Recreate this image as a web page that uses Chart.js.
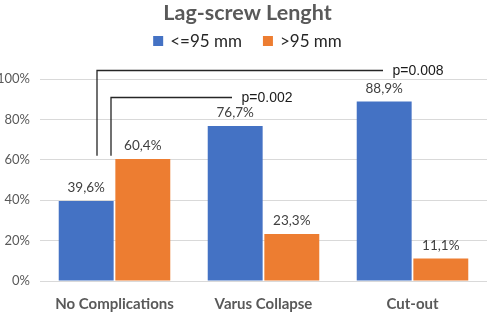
<!DOCTYPE html>
<html>
<head>
<meta charset="utf-8">
<script src="https://cdn.jsdelivr.net/npm/chart.js@4.4.1/dist/chart.umd.min.js"></script>
<style>
  html, body { margin: 0; padding: 0; background: #fff; }
  #wrap { width: 489px; height: 312px; position: relative; }
</style>
</head>
<body>
<div id="wrap"><canvas id="chart"></canvas></div>
<script>
// data
const categories = ["No Complications", "Varus Collapse", "Cut-out"];
const shortScrew = [39.6, 76.7, 88.9];   // <=95 mm
const longScrew = [60.4, 23.3, 11.1];    // >95 mm
const seriesNames = ["<=95 mm", ">95 mm"];
const seriesColors = ["#4472C4", "#ED7D31"];
const yTicks = [0, 20, 40, 60, 80, 100];
const pValues = ["p=0.002", "p=0.008"];   // No Complications vs Varus Collapse / Cut-out
const chartTitle = "Lag-screw Lenght";

const FONT = "Lato, 'Open Sans', sans-serif";
const GREY = "#595959";

function fmt(v) {
  return v.toFixed(1).replace(".", ",") + "%";
}

// title + legend drawn by hand so they sit exactly where the original has them
const header = {
  id: "header",
  afterDraw(chart) {
    const ctx = chart.ctx;
    const mid = chart.width / 2 + 3;
    ctx.save();
    ctx.textBaseline = "middle";

    ctx.font = "bold 21.5px " + FONT;
    ctx.fillStyle = GREY;
    ctx.textAlign = "center";
    ctx.fillText(chartTitle, mid, 13);

    ctx.font = "17px " + FONT;
    ctx.textAlign = "left";
    const box = 10, gap = 7, itemGap = 21;
    const widths = seriesNames.map((s) => ctx.measureText(s).width);
    const total = widths.reduce((a, w) => a + box + gap + w, 0) + itemGap;
    let xPos = mid - total / 2;
    seriesNames.forEach((s, i) => {
      ctx.fillStyle = seriesColors[i];
      ctx.fillRect(xPos, 36, box, box);
      ctx.fillStyle = "#262626";
      ctx.fillText(s, xPos + box + gap, 42);
      xPos += box + gap + widths[i] + itemGap;
    });
    ctx.restore();
  },
};

// value labels above each bar
const barLabels = {
  id: "barLabels",
  afterDatasetsDraw(chart) {
    const ctx = chart.ctx;
    ctx.save();
    ctx.font = "13.5px " + FONT;
    ctx.fillStyle = "#404040";
    ctx.textAlign = "center";
    ctx.textBaseline = "middle";
    chart.data.datasets.forEach((ds, i) => {
      chart.getDatasetMeta(i).data.forEach((bar, j) => {
        ctx.fillText(fmt(ds.data[j]), bar.x, bar.y - 13);
      });
    });
    ctx.restore();
  },
};

// significance brackets (left leg only, as in the original)
const brackets = {
  id: "brackets",
  afterDatasetsDraw(chart) {
    const ctx = chart.ctx;
    const x = chart.scales.x;
    const y = chart.scales.y;
    const defs = [
      { to: 1, p: pValues[0], legX: -3.5, top: 91.1, endX: -31.5 },
      { to: 2, p: pValues[1], legX: -17.5, top: 104.5, endX: -29.5 },
    ];
    ctx.save();
    ctx.strokeStyle = "#262626";
    ctx.lineWidth = 1.3;
    ctx.font = "14px 'Liberation Sans', Arial, sans-serif";
    ctx.fillStyle = "#1a1a1a";
    ctx.textBaseline = "middle";
    defs.forEach((d) => {
      const x0 = x.getPixelForValue(0) + d.legX;
      const x1 = x.getPixelForValue(d.to) + d.endX;
      const yTop = Math.round(y.getPixelForValue(d.top)) + 0.5;
      const yBottom = y.getPixelForValue(62);
      ctx.beginPath();
      ctx.moveTo(x0, yBottom);
      ctx.lineTo(x0, yTop);
      ctx.lineTo(x1, yTop);
      ctx.stroke();
      ctx.fillText(d.p, x1 + 9.5, yTop + 1);
    });
    ctx.restore();
  },
};

new Chart(document.getElementById("chart"), {
  type: "bar",
  data: {
    labels: categories,
    datasets: [
      { label: seriesNames[0], data: shortScrew, backgroundColor: seriesColors[0] },
      { label: seriesNames[1], data: longScrew, backgroundColor: seriesColors[1] },
    ],
  },
  options: {
    responsive: true,
    maintainAspectRatio: false,
    animation: false,
    categoryPercentage: 0.76,
    barPercentage: 0.97,
    layout: { padding: { left: 0, right: 2, top: 79, bottom: 0 } },
    plugins: {
      title: { display: false },
      legend: { display: false },
      tooltip: { enabled: false },
    },
    scales: {
      x: {
        grid: { display: false, drawTicks: false },
        border: { display: false },
        ticks: {
          color: GREY,
          padding: 14,
          font: { family: FONT, size: 15, weight: "bold" },
        },
        afterFit(scale) { scale.height = 31; },
      },
      y: {
        min: 0,
        max: 100,
        afterBuildTicks(scale) { scale.ticks = yTicks.map((v) => ({ value: v })); },
        grid: { color: "#d9d9d9", drawTicks: false },
        border: { display: false },
        ticks: {
          color: GREY,
          padding: 10,
          font: { family: FONT, size: 13 },
          callback: (v) => v + "%",
        },
        afterFit(scale) { scale.width = 40; },
      },
    },
  },
  plugins: [header, barLabels, brackets],
});
</script>
</body>
</html>
